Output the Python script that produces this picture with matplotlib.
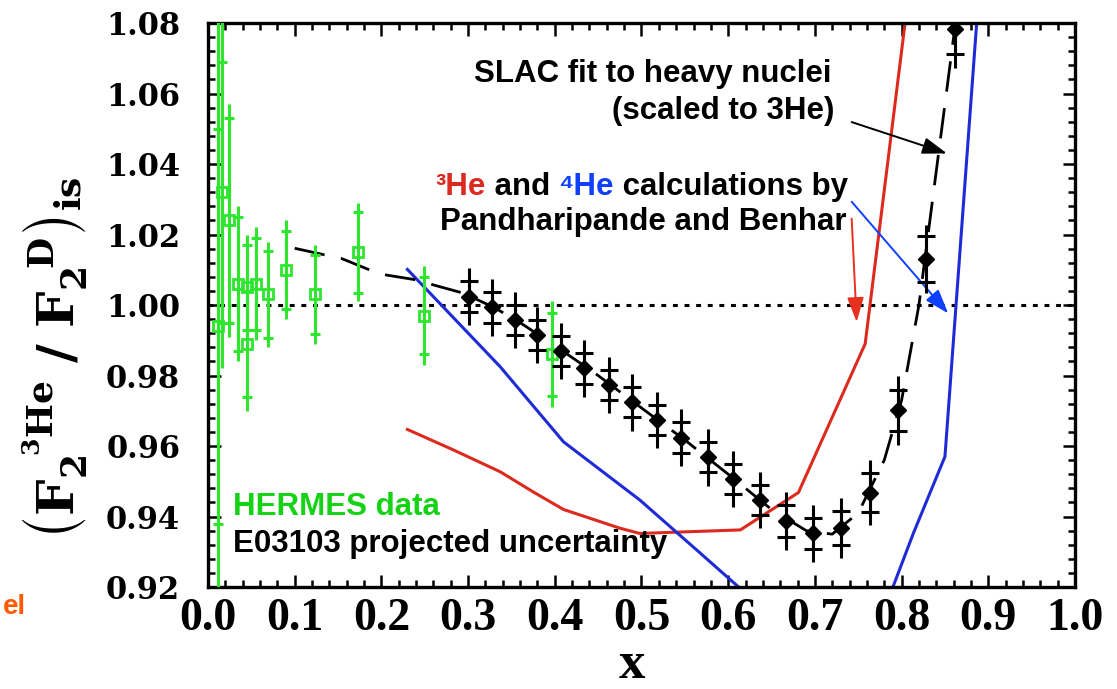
import matplotlib
matplotlib.use('Agg')
import matplotlib.pyplot as plt
from matplotlib.ticker import MultipleLocator

# ---------------- data ----------------
hermes_x = [0.0120, 0.0165, 0.0242, 0.0350, 0.0446, 0.0446, 0.0554, 0.0696, 0.0900, 0.1234, 0.1734, 0.2490, 0.3964]
hermes_y = [0.994, 1.032, 1.024, 1.006, 1.005, 0.989, 1.006, 1.003, 1.010, 1.003, 1.015, 0.997, 0.986]
hermes_stat = [0.056, 0.037, 0.029, 0.019, 0.012, 0.015, 0.013, 0.0123, 0.011, 0.0112, 0.0115, 0.011, 0.0118]
hermes_tot = [0.120, 0.050, 0.033, 0.022, 0.015, 0.019, 0.016, 0.015, 0.014, 0.014, 0.014, 0.014, 0.015]

proj_x = [0.301, 0.328, 0.354, 0.380, 0.407, 0.434, 0.462, 0.489, 0.518, 0.546,
          0.577, 0.606, 0.637, 0.667, 0.698, 0.730, 0.763, 0.796, 0.828, 0.862]
proj_y = [1.0024, 0.9993, 0.9957, 0.9915, 0.9870, 0.9820, 0.9773, 0.9724, 0.9674, 0.9624,
          0.9568, 0.9506, 0.9447, 0.9388, 0.9352, 0.9367, 0.9468, 0.9702, 1.0130, 1.0782]
proj_stat = [0.0043, 0.0043, 0.0043, 0.0043, 0.0043, 0.0043, 0.0043, 0.0043, 0.0043, 0.0043,
             0.0043, 0.0043, 0.0043, 0.0045, 0.0045, 0.0048, 0.0055, 0.0058, 0.0066, 0.0070]
proj_tot = [0.0080, 0.0080, 0.0080, 0.0080, 0.0080, 0.0080, 0.0080, 0.0080, 0.0080, 0.0080,
            0.0080, 0.0080, 0.0080, 0.0082, 0.0082, 0.0086, 0.0093, 0.0098, 0.0096, 0.0110]

slac_x = [0.100, 0.135, 0.154, 0.187, 0.206, 0.241, 0.260, 0.294, 0.330, 0.360, 0.400, 0.450,
          0.500, 0.550, 0.600, 0.650, 0.690, 0.720, 0.750, 0.780, 0.800, 0.820, 0.840, 0.860, 0.875]
slac_y = [1.0161, 1.0142, 1.0132, 1.0099, 1.0085, 1.0071, 1.0057, 1.0034, 0.9993, 0.9950, 0.9885, 0.9800,
          0.9708, 0.9617, 0.9520, 0.9420, 0.9360, 0.9350, 0.9410, 0.9560, 0.9730, 1.0000, 1.0380, 1.0760, 1.1050]

he3_x = [0.230, 0.283, 0.337, 0.375, 0.410, 0.475, 0.498, 0.614, 0.681, 0.758, 0.804, 0.820]
he3_y = [0.9647, 0.9589, 0.9527, 0.9470, 0.9420, 0.9367, 0.9352, 0.9362, 0.9468, 0.9890, 1.0800, 1.1150]

he4_x = [0.230, 0.337, 0.410, 0.498, 0.566, 0.612, 0.650, 0.700, 0.750, 0.790, 0.8135, 0.850, 0.8866, 0.895]
he4_y = [1.0101, 0.9825, 0.9612, 0.9447, 0.9300, 0.9200, 0.9120, 0.9050, 0.9000, 0.9200, 0.9352, 0.9570, 1.0800, 1.1080]

xticks = [0.0, 0.1, 0.2, 0.3, 0.4, 0.5, 0.6, 0.7, 0.8, 0.9, 1.0]
xticklabels = ['0.0', '0.1', '0.2', '0.3', '0.4', '0.5', '0.6', '0.7', '0.8', '0.9', '1.0']
yticks = [0.92, 0.94, 0.96, 0.98, 1.00, 1.02, 1.04, 1.06, 1.08]
yticklabels = ['0.92', '0.94', '0.96', '0.98', '1.00', '1.02', '1.04', '1.06', '1.08']

# ---------------- style ----------------
GREEN = '#2ee62e'
GREEN_TXT = '#14d214'
RED = '#dd2a1f'
BLUE = '#1f2bd6'
ARROW_RED = '#e8301e'
ARROW_BLUE = '#1040ff'
SANS = ['Liberation Sans', 'DejaVu Sans']

plt.rcParams['mathtext.fontset'] = 'dejavuserif'

fig = plt.figure(figsize=(11.17, 6.89), dpi=100)
ax = fig.add_axes([0.1862, 0.1480, 0.7762, 0.8186])
ax.set_xlim(0.0, 1.0)
ax.set_ylim(0.92, 1.08)

for s in ax.spines.values():
    s.set_linewidth(2.4)

ax.set_xticks(xticks)
ax.set_xticklabels(xticklabels, fontfamily='Liberation Serif', fontweight='bold', fontsize=33)
ax.set_yticks(yticks)
ax.set_yticklabels(yticklabels, fontfamily='DejaVu Serif', fontweight='bold', fontsize=22)
ax.xaxis.set_minor_locator(MultipleLocator(0.02))
ax.yaxis.set_minor_locator(MultipleLocator(0.004))
ax.tick_params(which='both', direction='in', top=True, right=True, width=1.8)
ax.tick_params(which='major', length=9)
ax.tick_params(which='minor', length=5)
ax.tick_params(axis='y', which='major', pad=20)
ax.tick_params(axis='x', which='major', pad=8)

# reference line at 1
ax.axhline(1.0, color='k', lw=2.2, ls=(0, (1.6, 2.2)), zorder=1)

# theory curves
ax.plot(he3_x, he3_y, color=RED, lw=2.2, zorder=2)
ax.plot(he4_x, he4_y, color=BLUE, lw=2.2, zorder=2)

# SLAC fit
ax.plot(slac_x, slac_y, color='k', lw=2.0, ls=(0, (11, 6)), zorder=3)

# HERMES data
ax.errorbar(hermes_x, hermes_y, yerr=hermes_tot, fmt='none', ecolor=GREEN, elinewidth=2.2, capsize=0, zorder=4)
ax.errorbar(hermes_x, hermes_y, yerr=hermes_stat, fmt='none', ecolor=GREEN, elinewidth=2.2,
            capsize=3.8, capthick=2.2, zorder=4)
ax.plot(hermes_x, hermes_y, ls='none', marker='s', ms=7, mfc='none', mec=GREEN, mew=2.0, zorder=5)

# projected E03103
ax.errorbar(proj_x, proj_y, yerr=proj_tot, fmt='none', ecolor='k', elinewidth=2.2, capsize=0, zorder=6)
ax.errorbar(proj_x, proj_y, yerr=proj_stat, fmt='none', ecolor='k', elinewidth=2.2,
            capsize=6.5, capthick=2.2, zorder=6)
ax.plot(proj_x, proj_y, ls='none', marker='D', ms=8, color='k', zorder=7)

# ---------------- annotations ----------------
FS = 22.5
ax.text(0.7197, 1.0633, 'SLAC fit to heavy nuclei', ha='right', va='baseline',
        fontsize=FS, fontweight='bold', family=SANS)
ax.text(0.7220, 1.0528, '(scaled to 3He)', ha='right', va='baseline',
        fontsize=FS, fontweight='bold', family=SANS)

# multi-coloured line, built right to left
pieces = [('\u00b3He', RED), (' and ', 'k'), ('\u2074He', ARROW_BLUE), (' calculations by', 'k')]
t = ax.text(0.7382, 1.0312, pieces[-1][0], color=pieces[-1][1], ha='right', va='baseline',
            fontsize=FS, fontweight='bold', family=SANS)
for s, c in reversed(pieces[:-1]):
    t = ax.annotate(s, xy=(0, 0), xycoords=t, ha='right', va='bottom', color=c,
                    fontsize=FS, fontweight='bold', family=SANS)

ax.text(0.7370, 1.0213, 'Pandharipande and Benhar', ha='right', va='baseline',
        fontsize=FS, fontweight='bold', family=SANS)

ax.text(0.0288, 0.9404, 'HERMES data', ha='left', va='baseline', color=GREEN_TXT,
        fontsize=FS, fontweight='bold', family=SANS, zorder=8)
ax.text(0.0288, 0.9300, 'E03103 projected uncertainty', ha='left', va='baseline', color='k',
        fontsize=FS, fontweight='bold', family=SANS, zorder=8)

# arrows
ahead = '-|>,head_length=0.5,head_width=0.17'
ax.annotate('', xy=(0.8523, 1.0430), xytext=(0.7424, 1.0519),
            arrowprops=dict(arrowstyle=ahead, color='k', lw=1.4, mutation_scale=30, shrinkA=0, shrinkB=0))
ax.annotate('', xy=(0.8538, 0.9976), xytext=(0.7424, 1.0293),
            arrowprops=dict(arrowstyle=ahead, color=ARROW_BLUE, lw=1.4, mutation_scale=30, shrinkA=0, shrinkB=0))
ax.annotate('', xy=(0.7482, 0.9952), xytext=(0.7424, 1.0245),
            arrowprops=dict(arrowstyle=ahead, color=ARROW_RED, lw=1.4, mutation_scale=30, shrinkA=0, shrinkB=0))

# axis titles
fig.text(55 / 1117, 1 - 358 / 689,
         r'$\mathbf{\left(F_{2}^{\ \ {}^{3}He}\ /\ F_{2}^{\ \ D}\right)_{is}}$',
         rotation=90, ha='center', va='center', fontsize=37)
fig.text(632 / 1117, 1 - 665 / 689, 'x', ha='center', va='center',
         fontfamily='Liberation Serif', fontweight='bold', fontsize=38)

# clipped fragment at the left edge
fig.text(3 / 1117, 1 - 614 / 689, 'el', ha='left', va='baseline', color='#ff5a00',
         fontsize=20, fontweight='bold', family=SANS)

fig.savefig('out.png', dpi=100)
